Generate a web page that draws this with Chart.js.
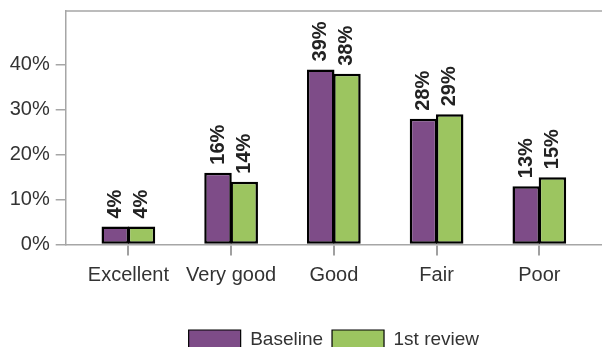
<!DOCTYPE html>
<html>
<head>
<meta charset="utf-8">
<script src="https://cdn.jsdelivr.net/npm/chart.js@4/dist/chart.umd.min.js"></script>
<style>
  html, body { margin: 0; padding: 0; background: #fff; }
  #wrap { position: relative; width: 602px; height: 347px; }
</style>
</head>
<body>
<div id="wrap"><canvas id="chart"></canvas></div>
<script>
// Ratings shown along the x axis
const CATEGORIES = ['Excellent', 'Very good', 'Good', 'Fair', 'Poor']
// Percent of responses per rating
const BASELINE = [4, 16, 39, 28, 13]
const FIRST_REVIEW = [4, 14, 38, 29, 15]
const Y_TICKS = [0, 10, 20, 30, 40]

const FONT_FAMILY = '"Liberation Sans", Arial, sans-serif'
const AXIS_FONT = { family: FONT_FAMILY, size: 20 }
const FRAME_COLOR = '#a6a6a6'

// Top edge of the plot frame and the category tick marks under the x axis
const framePlugin = {
  id: 'frameTop',
  afterDraw(chart) {
    const { ctx, chartArea } = chart
    const xScale = chart.scales.x
    ctx.save()
    ctx.strokeStyle = FRAME_COLOR
    ctx.lineWidth = 1.5
    ctx.beginPath()
    ctx.moveTo(chartArea.left, chartArea.top)
    ctx.lineTo(chartArea.right, chartArea.top)
    ctx.stroke()
    ctx.fillStyle = '#a0a0a0'
    xScale.ticks.forEach(t => {
      const x = Math.round(xScale.getPixelForValue(t.value))
      ctx.fillRect(x - 1, xScale.top + 1, 2, 10)
    })
    ctx.restore()
  },
}

// Rotated bold value labels above each bar
const valueLabelPlugin = {
  id: 'valueLabels',
  afterDatasetsDraw(chart) {
    const { ctx } = chart
    ctx.save()
    ctx.font = 'bold 20px ' + FONT_FAMILY
    ctx.fillStyle = '#222'
    ctx.textAlign = 'left'
    ctx.textBaseline = 'middle'
    chart.data.datasets.forEach((ds, di) => {
      chart.getDatasetMeta(di).data.forEach((bar, i) => {
        ctx.save()
        ctx.translate(bar.x, bar.y - 8)
        ctx.rotate(-Math.PI / 2)
        ctx.fillText(ds.data[i].y + '%', 0, 0)
        ctx.restore()
      })
    })
    ctx.restore()
  },
}

const toPoints = arr => arr.map((v, i) => ({ x: i, y: v }))

// slight overlap so the two black borders merge into one seam
const barStyle = {
  borderColor: '#000',
  borderWidth: 2.5,
  borderSkipped: false,
  categoryPercentage: 0.51,
  barPercentage: 1.05,
}

new Chart(document.getElementById('chart'), {
  type: 'bar',
  data: {
    datasets: [
      { label: 'Baseline', data: toPoints(BASELINE), backgroundColor: '#7e4c88', ...barStyle },
      { label: '1st review', data: toPoints(FIRST_REVIEW), backgroundColor: '#9cc560', ...barStyle },
    ],
  },
  options: {
    responsive: true,
    maintainAspectRatio: false,
    animation: false,
    layout: { padding: { top: 11, right: 0, left: 0, bottom: -13 } },
    plugins: {
      tooltip: { enabled: false },
      legend: {
        position: 'bottom',
        fullSize: false,
        labels: {
          color: '#333',
          font: { family: FONT_FAMILY, size: 19 },
          boxWidth: 52,
          boxHeight: 20,
          padding: 9,
          generateLabels: chart =>
            Chart.defaults.plugins.legend.labels.generateLabels(chart)
              .map(l => ({ ...l, lineWidth: 1.2 })),
        },
      },
    },
    scales: {
      x: {
        type: 'linear',
        min: -0.61,
        max: 4.61,
        offset: false,
        afterBuildTicks: scale => {
          scale.ticks = CATEGORIES.map((_, i) => ({ value: i }))
        },
        afterFit: scale => {
          scale.height = 76.5
          scale.paddingLeft = 0
          scale.paddingRight = 0
        },
        grid: { offset: false, drawOnChartArea: false, drawTicks: false },
        border: { color: FRAME_COLOR, width: 1.5 },
        ticks: {
          color: '#333',
          font: AXIS_FONT,
          padding: 18.5,
          maxRotation: 0,
          autoSkip: false,
          callback: v => CATEGORIES[v],
        },
      },
      y: {
        min: 0,
        max: 52,
        afterBuildTicks: scale => {
          scale.ticks = Y_TICKS.map(v => ({ value: v }))
        },
        afterFit: scale => {
          scale.width = 65.7
          scale.paddingTop = 0
          scale.paddingBottom = 0
        },
        grid: { drawOnChartArea: false, drawTicks: true, tickLength: 10, color: FRAME_COLOR, lineWidth: 1.5 },
        border: { color: FRAME_COLOR, width: 1.5 },
        ticks: {
          color: '#333',
          font: AXIS_FONT,
          padding: 6,
          callback: v => v + '%',
        },
      },
    },
  },
  plugins: [framePlugin, valueLabelPlugin],
})
</script>
</body>
</html>
